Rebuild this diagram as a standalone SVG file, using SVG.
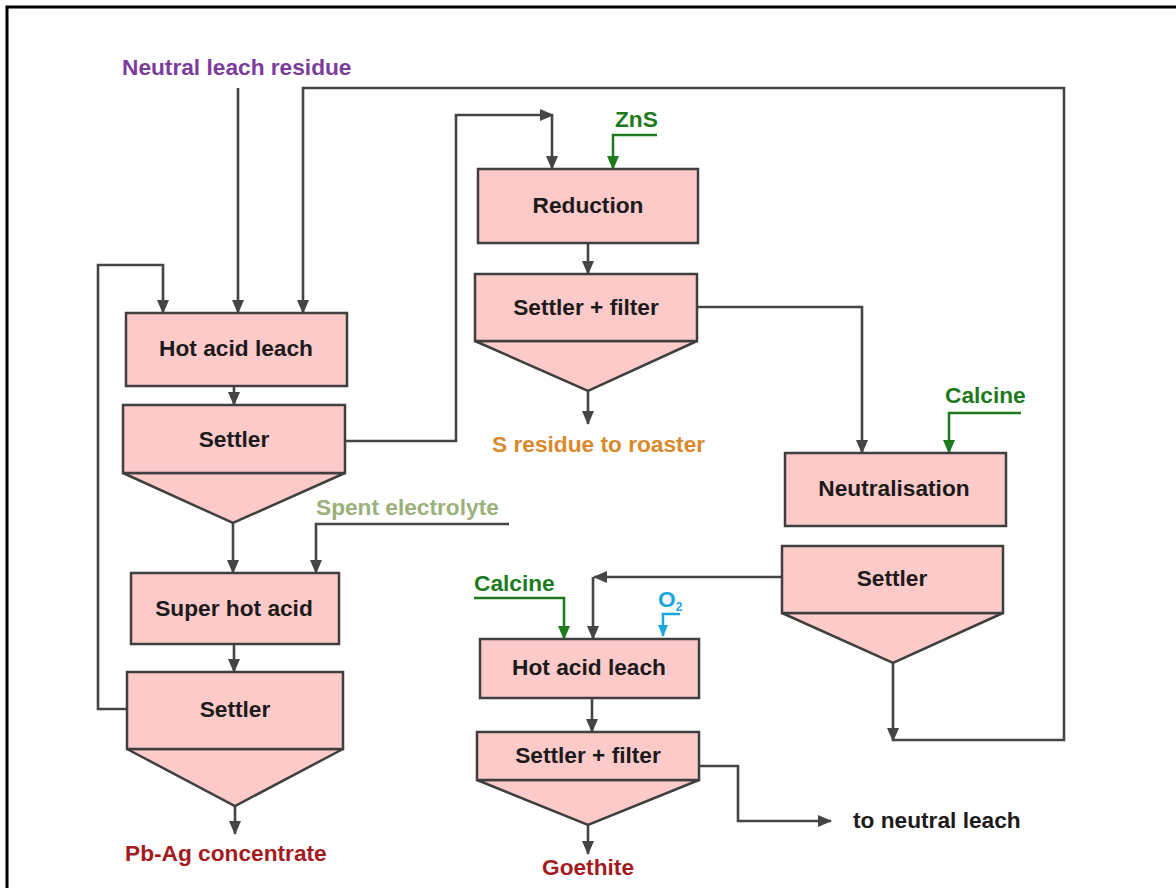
<svg xmlns="http://www.w3.org/2000/svg" width="1176" height="888" viewBox="0 0 1176 888">
<style>
  .box{fill:#fdcaca;stroke:#3f3f3f;stroke-width:2.5}
  .lbl{font-family:"Liberation Sans",Arial,sans-serif;font-weight:bold;font-size:22.7px}
  .nt{fill:#1c1a1a;text-anchor:middle}
  .ln{fill:none;stroke:#454545;stroke-width:2.6}
  .g{fill:none;stroke:#1d7a1d;stroke-width:2.5}
  .c{fill:none;stroke:#1ca6e0;stroke-width:2.5}
</style>
<defs>
  <marker id="ah" markerUnits="userSpaceOnUse" markerWidth="14" markerHeight="12" refX="13" refY="6" orient="auto">
    <path d="M0,0 L14,6 L0,12 z" fill="#454545"/>
  </marker>
  <marker id="ahg" markerUnits="userSpaceOnUse" markerWidth="14" markerHeight="12" refX="13" refY="6" orient="auto">
    <path d="M0,0 L14,6 L0,12 z" fill="#1d7a1d"/>
  </marker>
  <marker id="ahc" markerUnits="userSpaceOnUse" markerWidth="12" markerHeight="10" refX="11" refY="5" orient="auto">
    <path d="M0,0 L12,5 L0,10 z" fill="#1ca6e0"/>
  </marker>
</defs>
<rect x="0" y="0" width="1176" height="888" fill="#ffffff"/>
<g id="frame">
  <path d="M7,888 V7 H1176" fill="none" stroke="#000" stroke-width="3"/>
</g>

<g id="connectors">
  <path class="ln" d="M238,88 V313" marker-end="url(#ah)"/>
  <path class="ln" d="M893,663 V741" marker-end="url(#ah)"/>
  <path class="ln" d="M893,740 H1064 V88 H303 V313" marker-end="url(#ah)"/>
  <path class="ln" d="M127,709 H98 V265 H163 V313" marker-end="url(#ah)"/>
  <path class="ln" d="M234,386 V405" marker-end="url(#ah)"/>
  <path class="ln" d="M345,441 H456 V115 H553" marker-end="url(#ah)"/>
  <path class="ln" d="M552,115 V169" marker-end="url(#ah)"/>
  <path class="ln" d="M233,523 V573" marker-end="url(#ah)"/>
  <path class="ln" d="M509,524 H316 V573" marker-end="url(#ah)"/>
  <path class="ln" d="M234,644 V672" marker-end="url(#ah)"/>
  <path class="ln" d="M235,806 V834" marker-end="url(#ah)"/>
  <path class="g" d="M657,135 H613 V169" marker-end="url(#ahg)"/>
  <path class="ln" d="M588,243 V274" marker-end="url(#ah)"/>
  <path class="ln" d="M588,391 V424" marker-end="url(#ah)"/>
  <path class="ln" d="M697,307 H862 V453" marker-end="url(#ah)"/>
  <path class="g" d="M1021,413 H949 V453" marker-end="url(#ahg)"/>
  <path class="ln" d="M782,577 H594" marker-end="url(#ah)"/>
  <path class="ln" d="M593,577 V639" marker-end="url(#ah)"/>
  <path class="g" d="M474,598 H564 V639" marker-end="url(#ahg)"/>
  <path class="c" d="M680,614 H663 V636" marker-end="url(#ahc)"/>
  <path class="ln" d="M592,698 V732" stroke-width="2" marker-end="url(#ah)"/>
  <path class="ln" d="M588,825 V854" marker-end="url(#ah)"/>
  <path class="ln" d="M699,766 H738 V821 H831" marker-end="url(#ah)"/>
</g>

<g id="hot-acid-leach-1">
  <rect class="box" x="126" y="313" width="221" height="73"/>
  <text class="lbl nt" x="236" y="356">Hot acid leach</text>
</g>
<g id="settler-1">
  <polygon class="box" points="123,473 345,473 233,523"/>
  <rect class="box" x="123" y="405" width="222" height="68"/>
  <text class="lbl nt" x="234" y="447">Settler</text>
</g>
<g id="super-hot-acid">
  <rect class="box" x="131" y="573" width="208" height="71"/>
  <text class="lbl nt" x="234" y="616">Super hot acid</text>
</g>
<g id="settler-2">
  <polygon class="box" points="127,749 343,749 235,806"/>
  <rect class="box" x="127" y="672" width="216" height="77"/>
  <text class="lbl nt" x="235" y="717">Settler</text>
</g>
<g id="reduction">
  <rect class="box" x="478" y="169" width="220" height="74"/>
  <text class="lbl nt" x="588" y="213">Reduction</text>
</g>
<g id="settler-filter-1">
  <polygon class="box" points="475,341 697,341 588,391"/>
  <rect class="box" x="475" y="274" width="222" height="67"/>
  <text class="lbl nt" x="586" y="315">Settler + filter</text>
</g>
<g id="neutralisation">
  <rect class="box" x="785" y="453" width="221" height="73"/>
  <text class="lbl nt" x="894" y="496">Neutralisation</text>
</g>
<g id="settler-3">
  <polygon class="box" points="782,613 1003,613 893,663"/>
  <rect class="box" x="782" y="546" width="221" height="67"/>
  <text class="lbl nt" x="892" y="586">Settler</text>
</g>
<g id="hot-acid-leach-2">
  <rect class="box" x="480" y="639" width="219" height="59"/>
  <text class="lbl nt" x="589" y="675">Hot acid leach</text>
</g>
<g id="settler-filter-2">
  <polygon class="box" points="477,780 699,780 588,825"/>
  <rect class="box" x="477" y="732" width="222" height="48"/>
  <text class="lbl nt" x="588" y="763">Settler + filter</text>
</g>

<g id="labels">
  <text class="lbl" x="122" y="75" fill="#7b3c9c">Neutral leach residue</text>
  <text class="lbl" x="615" y="127" fill="#1d7a1d">ZnS</text>
  <text class="lbl" x="492" y="452" fill="#d9892c">S residue to roaster</text>
  <text class="lbl" x="945" y="403" fill="#1d7a1d">Calcine</text>
  <text class="lbl" x="316" y="515" fill="#9bb07a">Spent electrolyte</text>
  <text class="lbl" x="474" y="591" fill="#1d7a1d">Calcine</text>
  <text class="lbl" x="658" y="607" fill="#1ca6e0" font-size="19">O<tspan font-size="12" dy="4">2</tspan></text>
  <text class="lbl" x="125" y="861" fill="#a31b1f">Pb-Ag concentrate</text>
  <text class="lbl" x="542" y="875" fill="#a31b1f">Goethite</text>
  <text class="lbl" x="853" y="828" fill="#1c1a1a">to neutral leach</text>
</g>
</svg>
